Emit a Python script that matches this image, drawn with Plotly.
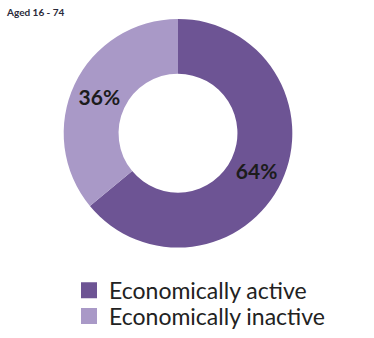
import plotly.graph_objects as go

# Economic activity of residents aged 16 - 74
categories = ["Economically active", "Economically inactive"]
shares = [64, 36]
colors = ["#6d5494", "#a999c7"]

fig = go.Figure()

fig.add_trace(
    go.Pie(
        labels=categories,
        values=shares,
        hole=0.52,
        sort=False,
        direction="clockwise",
        rotation=0,
        marker=dict(colors=colors, line=dict(width=0)),
        texttemplate="<b>%{value}%</b>",
        textposition="inside",
        insidetextorientation="horizontal",
        textfont=dict(family="Lato", size=21, color="#1c1c1c"),
        domain=dict(x=[63 / 374, 293 / 374], y=[1 - 249 / 338, 1 - 19 / 338]),
        hoverinfo="label+percent",
        showlegend=False,
    )
)

# Legend keys as square swatches, each category in its own legend box
legend_ids = ["legend", "legend2"]
for name, col, lg in zip(categories, colors, legend_ids):
    fig.add_trace(
        go.Scatter(
            x=[None],
            y=[None],
            mode="markers",
            name=name,
            marker=dict(symbol="square", size=16, color=col),
            showlegend=True,
            legend=lg,
        )
    )

legend_style = dict(
    xanchor="left",
    yanchor="middle",
    font=dict(family="Lato", size=23, color="#222222"),
    itemsizing="trace",
    bgcolor="rgba(0,0,0,0)",
)

fig.update_layout(
    width=374,
    height=338,
    margin=dict(l=0, r=0, t=0, b=0),
    paper_bgcolor="white",
    plot_bgcolor="white",
    xaxis=dict(visible=False),
    yaxis=dict(visible=False),
    legend=dict(x=69 / 374, y=1 - 292 / 338, **legend_style),
    legend2=dict(x=69 / 374, y=1 - 318 / 338, **legend_style),
    annotations=[
        dict(
            text="<b>Aged 16 - 74</b>",
            x=4 / 374,
            y=1 - 4 / 338,
            xref="paper",
            yref="paper",
            xanchor="left",
            yanchor="top",
            showarrow=False,
            font=dict(family="Lato", size=10, color="#2a2a3a"),
        )
    ],
)

fig.write_html("out.html")
